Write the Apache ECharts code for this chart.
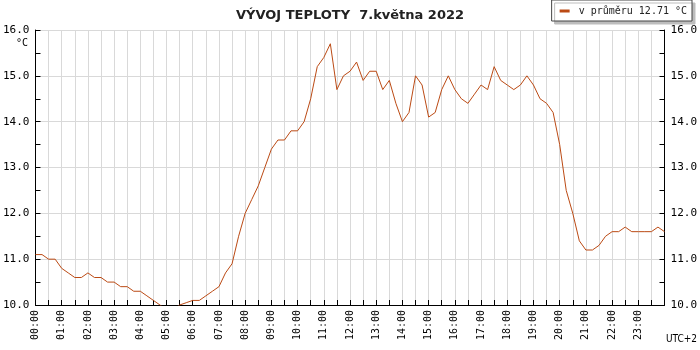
<!DOCTYPE html>
<html>
<head>
<meta charset="utf-8">
<script src="https://cdn.jsdelivr.net/npm/echarts@6/dist/echarts.min.js"></script>
<style>
html,body{margin:0;padding:0;background:#fff;}
#chart{width:700px;height:350px;}
</style>
</head>
<body>
<div id="chart"></div>
<script>
// teplota po 15 min, 00:00 .. 24:00
var teploty = [
    11.1, 11.1, 11.0, 11.0, 10.8, 10.7, 10.6, 10.6, 10.7, 10.6, 10.6, 10.5, 10.5, 10.4, 10.4, 10.3,
    10.3, 10.2, 10.1, 10.0, 9.9, 9.9, 10.0, 10.05, 10.1, 10.1, 10.2, 10.3, 10.4, 10.7, 10.9, 11.5,
    12.0, 12.3, 12.6, 13.0, 13.4, 13.6, 13.6, 13.8, 13.8, 14.0, 14.5, 15.2, 15.4, 15.7, 14.7, 15.0,
    15.1, 15.3, 14.9, 15.1, 15.1, 14.7, 14.9, 14.4, 14.0, 14.2, 15.0, 14.8, 14.1, 14.2, 14.7, 15.0,
    14.7, 14.5, 14.4, 14.6, 14.8, 14.7, 15.2, 14.9, 14.8, 14.7, 14.8, 15.0, 14.8, 14.5, 14.4, 14.2,
    13.5, 12.5, 12.0, 11.4, 11.2, 11.2, 11.3, 11.5, 11.6, 11.6, 11.7, 11.6, 11.6, 11.6, 11.6, 11.7,
    11.6
];
// popisky casu
var casy = [];
for (var i = 0; i < teploty.length; i++) {
    var h = Math.floor(i / 4), m = (i % 4) * 15;
    casy.push((h < 10 ? '0' : '') + h + ':' + (m < 10 ? '0' : '') + m);
}
var nazev = 'VÝVOJ TEPLOTY  7.května 2022';
var legenda = 'v průměru 12.71 °C';

var mono = 'DejaVu Sans Mono';
var barva = '#bb4a14';

var yOsa = {
    type: 'value',
    min: 10,
    max: 16,
    interval: 1,
    axisLine: {show: true, lineStyle: {color: '#000', width: 1}},
    axisTick: {show: true, inside: true, length: 5, lineStyle: {color: '#000'}},
    minorTick: {show: true, splitNumber: 2, length: 5, lineStyle: {color: '#000'}},
    axisLabel: {
        fontFamily: mono, fontSize: 11, color: '#000', margin: 6,
        formatter: function (v) { return v.toFixed(1); }
    }
};

var option = {
    backgroundColor: '#fff',
    animation: false,
    title: {
        text: nazev,
        left: 'center',
        top: 4,
        textStyle: {fontFamily: 'DejaVu Sans', fontWeight: 'bold', fontSize: 13, color: '#222'}
    },
    legend: {
        right: 8,
        top: 0,
        padding: [6, 5, 5, 8],
        backgroundColor: '#fff',
        borderColor: '#444',
        borderWidth: 1,
        shadowColor: '#bdbdbd',
        shadowBlur: 0,
        shadowOffsetX: 3,
        shadowOffsetY: 3,
        icon: 'rect',
        itemWidth: 10,
        itemHeight: 3,
        data: [legenda],
        textStyle: {fontFamily: mono, fontSize: 10, color: '#222', padding: [0, 0, 0, 4]}
    },
    grid: {left: 34, right: 33, top: 30, bottom: 45},
    xAxis: {
        type: 'category',
        boundaryGap: false,
        data: casy,
        axisLine: {lineStyle: {color: '#000', width: 1}},
        axisTick: {inside: true, length: 5, interval: 1, lineStyle: {color: '#000'}},
        splitLine: {show: true, interval: 1, lineStyle: {color: '#d9d9d9', width: 1}},
        axisLabel: {
            rotate: 90,
            margin: 5,
            fontFamily: mono,
            fontSize: 10,
            color: '#000',
            interval: function (idx) { return idx % 4 === 0 && idx < 96; }
        }
    },
    yAxis: [
        Object.assign({}, yOsa, {
            position: 'left',
            splitLine: {show: true, lineStyle: {color: '#d9d9d9', width: 1}}
        }),
        Object.assign({}, yOsa, {
            position: 'right',
            splitLine: {show: false}
        })
    ],
    graphic: [
        {type: 'text', left: 16, top: 38, style: {text: '°C', fontFamily: mono, fontSize: 10, fill: '#000'}},
        {type: 'text', right: 3, top: 334, style: {text: 'UTC+2', fontFamily: 'Liberation Sans Narrow, DejaVu Sans Condensed', fontSize: 10, fill: '#000'}}
    ],
    series: [{
        name: legenda,
        type: 'line',
        data: teploty,
        yAxisIndex: 0,
        symbol: 'none',
        clip: true,
        color: barva,
        lineStyle: {color: barva, width: 1}
    }]
};

var myChart = echarts.init(document.getElementById('chart'));
myChart.setOption(option);
</script>
</body>
</html>
